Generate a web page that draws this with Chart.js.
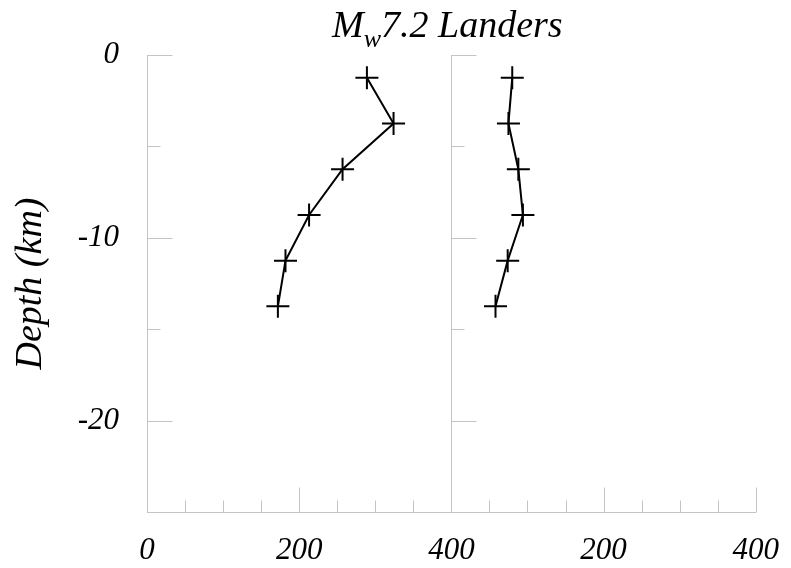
<!DOCTYPE html>
<html>
<head>
<meta charset="utf-8">
<script src="https://cdn.jsdelivr.net/npm/chart.js@4/dist/chart.umd.min.js"></script>
<style>
  html, body { margin: 0; padding: 0; background: #fff; }
  #wrap { position: relative; width: 791px; height: 568px; }
  #title { position: absolute; left: 332px; top: 5px; white-space: nowrap;
    font-family: "Liberation Serif", "DejaVu Serif", serif; font-style: italic;
    font-size: 38px; line-height: 38px; color: #000; }
  #title .sub { font-size: 26px; line-height: 0; position: relative; top: 10px; }
</style>
</head>
<body>
<div id="wrap">
  <canvas id="c" width="791" height="568"></canvas>
  <div id="title">M<span class="sub">w</span>7.2 Landers</div>
</div>
<script>
// ---- data ----
const depths      = [-1.25, -3.75, -6.25, -8.75, -11.25, -13.75];
const leftValues  = [289, 324, 257, 213, 182, 172];
const rightValues = [80, 75, 88, 94, 74, 58];
const yTickValues      = [0, -10, -20];
const yMinorTickValues = [-5, -15];
const leftXTicks   = [0, 200, 400];
const rightXTicks  = [200, 400];
const xMinorTicks  = [50, 100, 150, 250, 300, 350];
const yTitle = 'Depth (km)';

const serif = '"Liberation Serif", "DejaVu Serif", serif';
const axisColor = '#c4c4c4';

const leftPts  = depths.map((d, i) => ({ x: leftValues[i],  y: d }));
const rightPts = depths.map((d, i) => ({ x: rightValues[i], y: d }));

const tickFont = { family: serif, size: 31, style: 'italic' };

function xScale(ticksArr) {
  return {
    type: 'linear', position: 'bottom', stack: 'panels', stackWeight: 1,
    min: 0, max: 400,
    grid: { display: false },
    border: { display: true, color: axisColor, width: 1 },
    afterBuildTicks: s => { s.ticks = ticksArr.map(v => ({ value: v })); },
    afterFit: s => { s.height = 56; },
    ticks: { font: tickFont, color: '#000', padding: 12, maxRotation: 0, autoSkip: false }
  };
}

const inwardTicks = {
  id: 'inwardTicks',
  afterDraw(chart) {
    const ctx = chart.ctx;
    const y = chart.scales.y;
    const x1 = chart.scales.x1, x2 = chart.scales.x2;
    const top = chart.chartArea.top, bottom = chart.chartArea.bottom;
    ctx.save();
    ctx.strokeStyle = axisColor;
    ctx.lineWidth = 1;
    // middle (second panel) vertical axis
    const mid = Math.round(x2.left) + 0.5;
    ctx.beginPath();
    ctx.moveTo(mid, top); ctx.lineTo(mid, bottom);
    ctx.stroke();
    // y ticks on both vertical axes, pointing inward
    [Math.round(x1.left) + 0.5, mid].forEach(ax => {
      yTickValues.forEach(v => {
        const py = Math.round(y.getPixelForValue(v)) + 0.5;
        ctx.beginPath(); ctx.moveTo(ax, py); ctx.lineTo(ax + 25, py); ctx.stroke();
      });
      yMinorTickValues.forEach(v => {
        const py = Math.round(y.getPixelForValue(v)) + 0.5;
        ctx.beginPath(); ctx.moveTo(ax, py); ctx.lineTo(ax + 13, py); ctx.stroke();
      });
    });
    // x ticks pointing up
    const by = Math.round(bottom) + 0.5;
    [x1, x2].forEach(sc => {
      leftXTicks.forEach(v => {
        const px = Math.round(sc.getPixelForValue(v)) + 0.5;
        ctx.beginPath(); ctx.moveTo(px, by); ctx.lineTo(px, by - 25); ctx.stroke();
      });
      xMinorTicks.forEach(v => {
        const px = Math.round(sc.getPixelForValue(v)) + 0.5;
        ctx.beginPath(); ctx.moveTo(px, by); ctx.lineTo(px, by - 12); ctx.stroke();
      });
    });
    ctx.restore();
  }
};

const dsStyle = {
  borderColor: '#000', backgroundColor: '#000', borderWidth: 2,
  pointStyle: 'cross', pointRadius: 11.5, pointBorderWidth: 2,
  pointBorderColor: '#000', tension: 0, showLine: true, fill: false, clip: false
};

new Chart(document.getElementById('c'), {
  type: 'scatter',
  data: {
    datasets: [
      Object.assign({ label: 'left', data: leftPts, xAxisID: 'x1', yAxisID: 'y' }, dsStyle),
      Object.assign({ label: 'right', data: rightPts, xAxisID: 'x2', yAxisID: 'y' }, dsStyle)
    ]
  },
  options: {
    responsive: false,
    animation: false,
    layout: { padding: { top: 55, right: 22, bottom: 0, left: 0 } },
    plugins: { legend: { display: false }, tooltip: { enabled: false }, title: { display: false } },
    scales: {
      x1: xScale(leftXTicks),
      x2: xScale(rightXTicks),
      y: {
        type: 'linear', position: 'left', min: -25, max: 0,
        grid: { display: false },
        border: { display: true, color: axisColor, width: 1 },
        afterBuildTicks: s => { s.ticks = yTickValues.map(v => ({ value: v })); },
        afterFit: s => { s.width = 147; },
        ticks: { font: tickFont, color: '#000', padding: 20, autoSkip: false },
        title: { display: true, text: yTitle, color: '#000',
          font: { family: serif, size: 38, style: 'italic' }, padding: { top: 8, bottom: 0 } }
      }
    }
  },
  plugins: [inwardTicks]
});
</script>
</body>
</html>
